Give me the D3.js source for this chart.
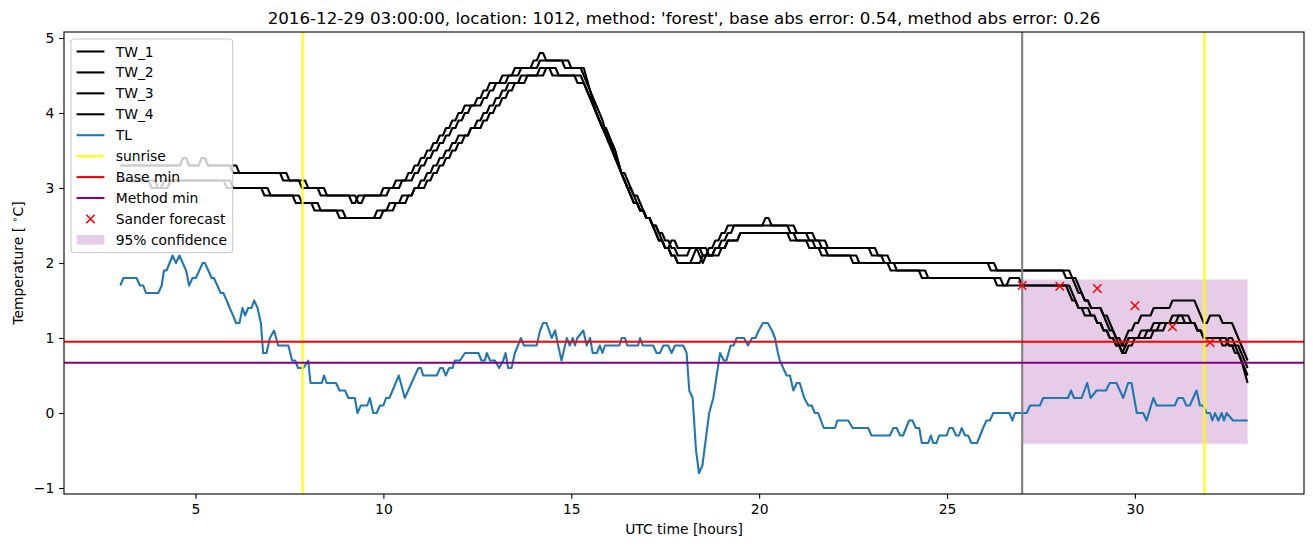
<!DOCTYPE html>
<html><head><meta charset="utf-8">
<script src="https://cdn.jsdelivr.net/npm/d3@7"></script>
<style>body{margin:0;background:#fff} svg{display:block} text{font-family:"DejaVu Sans",sans-serif;fill:#000}</style>
</head><body><svg id="chart" width="1313" height="547"></svg>
<script>
const chartTitle = "2016-12-29 03:00:00, location: 1012, method: 'forest', base abs error: 0.54, method abs error: 0.26";
const xLabel = "UTC time [hours]";
const xTicks = [5, 10, 15, 20, 25, 30];
const yTicks = [-1, 0, 1, 2, 3, 4, 5];
const seriesNames = ["TW_1", "TW_2", "TW_3", "TW_4", "TL"];

// TW sensors sampled every 10 minutes from 03:00 (hour 3) to hour 33
const twStartHour = 3, twStepHours = 1 / 6;
const tw1 = [
3.3,3.3,3.3,3.3,3.3,3.3,3.3,3.3,3.3,3.3,
3.4,3.3,3.3,3.4,3.3,3.3,3.3,3.3,3.2,3.2,
3.2,3.2,3.2,3.2,3.2,3.2,3.1,3.1,3.1,3.0,
3.0,3.0,2.9,2.9,2.9,2.9,2.9,2.8,2.9,2.9,
2.9,2.9,3.0,3.0,3.1,3.1,3.2,3.3,3.4,3.5,
3.6,3.7,3.8,3.9,4.0,4.1,4.1,4.2,4.3,4.4,
4.4,4.5,4.5,4.6,4.6,4.6,4.7,4.8,4.7,4.7,
4.7,4.6,4.6,4.6,4.5,4.3,4.0,3.8,3.7,3.4,
3.2,3.0,2.8,2.7,2.6,2.5,2.3,2.2,2.3,2.2,
2.2,2.2,2.2,2.0,2.2,2.3,2.4,2.5,2.5,2.5,
2.5,2.5,2.5,2.6,2.5,2.5,2.5,2.4,2.4,2.4,
2.3,2.3,2.2,2.2,2.2,2.2,2.2,2.2,2.2,2.2,
2.1,2.1,2.0,2.0,2.0,2.0,2.0,2.0,2.0,2.0,
2.0,2.0,2.0,2.0,2.0,2.0,2.0,2.0,2.0,1.9,
1.9,1.9,1.9,1.9,1.9,1.9,1.9,1.9,1.9,1.9,
1.9,1.8,1.8,1.6,1.5,1.4,1.4,1.3,1.1,1.0,
0.9,1.1,1.2,1.3,1.3,1.4,1.4,1.4,1.5,1.5,
1.5,1.5,1.4,1.2,1.3,1.3,1.2,1.2,1.1,0.9,
0.7];
const tw2 = [
3.3,3.3,3.3,3.3,3.3,3.3,3.3,3.3,3.3,3.3,
3.4,3.3,3.3,3.4,3.3,3.3,3.3,3.3,3.3,3.2,
3.2,3.2,3.2,3.2,3.2,3.2,3.2,3.1,3.1,3.1,
3.0,3.0,3.0,2.9,2.9,2.9,2.9,2.9,2.8,2.9,
2.9,2.9,2.9,3.0,3.0,3.1,3.1,3.2,3.3,3.4,
3.5,3.6,3.7,3.8,3.9,4.0,4.1,4.1,4.2,4.3,
4.4,4.4,4.5,4.5,4.6,4.6,4.6,4.7,4.7,4.7,
4.7,4.7,4.6,4.6,4.6,4.3,4.1,3.9,3.6,3.5,
3.2,3.0,2.8,2.7,2.6,2.5,2.4,2.3,2.2,2.1,
2.1,2.2,2.2,2.2,2.1,2.2,2.3,2.4,2.5,2.5,
2.5,2.5,2.5,2.5,2.5,2.5,2.5,2.5,2.4,2.4,
2.4,2.3,2.3,2.2,2.2,2.2,2.2,2.2,2.2,2.2,
2.2,2.1,2.1,2.0,2.0,2.0,2.0,2.0,2.0,2.0,
2.0,2.0,2.0,2.0,2.0,2.0,2.0,2.0,2.0,2.0,
1.9,1.9,1.9,1.9,1.9,1.9,1.9,1.9,1.9,1.9,
1.9,1.9,1.8,1.7,1.5,1.4,1.4,1.3,1.2,1.0,
0.8,1.0,1.0,1.1,1.1,1.2,1.2,1.2,1.3,1.3,
1.3,1.2,1.1,1.0,1.0,1.0,1.0,0.9,0.8,0.7,
0.5];
const tw3 = [
3.1,3.1,3.1,3.1,3.1,3.0,3.0,3.1,3.1,3.1,
3.1,3.1,3.1,3.1,3.1,3.1,3.1,3.0,3.0,3.0,
3.0,3.0,3.0,2.9,2.9,2.9,2.9,2.9,2.8,2.8,
2.8,2.7,2.7,2.7,2.7,2.6,2.6,2.6,2.6,2.6,
2.6,2.7,2.7,2.8,2.8,2.9,2.9,3.0,3.1,3.2,
3.3,3.4,3.5,3.6,3.7,3.7,3.8,3.9,4.0,4.1,
4.2,4.3,4.4,4.4,4.5,4.5,4.5,4.6,4.6,4.5,
4.5,4.5,4.5,4.4,4.4,4.2,4.0,3.8,3.6,3.4,
3.2,3.0,2.9,2.7,2.6,2.5,2.3,2.2,2.1,2.0,
2.0,2.0,2.2,2.1,2.1,2.2,2.2,2.3,2.3,2.4,
2.4,2.4,2.4,2.4,2.4,2.4,2.4,2.3,2.3,2.3,
2.2,2.2,2.1,2.1,2.1,2.1,2.1,2.0,2.0,2.0,
2.0,2.0,2.0,1.9,1.9,1.9,1.9,1.9,1.8,1.8,
1.8,1.8,1.8,1.8,1.8,1.8,1.8,1.8,1.8,1.8,
1.7,1.7,1.8,1.8,1.7,1.7,1.7,1.7,1.7,1.7,
1.7,1.7,1.6,1.4,1.4,1.3,1.2,1.1,1.0,0.9,
0.8,0.9,1.0,1.0,1.0,1.1,1.1,1.2,1.2,1.2,
1.2,1.2,1.1,1.0,1.0,1.0,0.9,1.0,0.9,0.7,
0.4];
const tw4 = [
3.1,3.1,3.1,3.1,3.1,3.1,3.0,3.0,3.1,3.1,
3.1,3.1,3.1,3.1,3.1,3.1,3.1,3.1,3.0,3.0,
3.0,3.0,3.0,3.0,2.9,2.9,2.9,2.9,2.9,2.8,
2.8,2.8,2.7,2.7,2.7,2.7,2.6,2.6,2.6,2.6,
2.6,2.6,2.7,2.7,2.8,2.8,2.9,3.0,3.0,3.1,
3.2,3.3,3.4,3.5,3.6,3.7,3.8,3.8,3.9,4.0,
4.1,4.2,4.3,4.4,4.4,4.5,4.5,4.5,4.6,4.6,
4.5,4.5,4.5,4.5,4.4,4.2,4.0,3.8,3.7,3.5,
3.2,3.1,2.9,2.8,2.6,2.5,2.4,2.2,2.1,2.0,
2.0,2.0,2.0,2.1,2.1,2.1,2.2,2.3,2.3,2.4,
2.4,2.4,2.4,2.4,2.4,2.4,2.4,2.4,2.3,2.3,
2.3,2.2,2.2,2.1,2.1,2.1,2.1,2.1,2.0,2.0,
2.0,2.0,2.0,2.0,1.9,1.9,1.9,1.9,1.9,1.8,
1.8,1.8,1.8,1.8,1.8,1.8,1.8,1.8,1.8,1.8,
1.8,1.7,1.7,1.7,1.7,1.7,1.7,1.7,1.7,1.7,
1.7,1.7,1.5,1.4,1.3,1.3,1.2,1.1,1.0,0.9,
0.9,1.0,1.0,1.0,1.1,1.1,1.2,1.2,1.2,1.3,
1.2,1.2,1.1,1.0,1.0,1.0,1.0,0.9,0.9,0.8,
0.6];

// TL: [hour, temperature] readings
const tlSeries = [
[3.00,1.7],[3.08,1.8],[3.43,1.8],[3.52,1.7],[3.61,1.7],[3.68,1.6],[4.01,1.6],[4.10,1.7],[4.16,1.9],[4.23,1.9],
[4.39,2.1],[4.48,2.0],[4.57,2.1],[4.75,1.9],[4.83,1.7],[4.92,1.8],[5.01,1.8],[5.19,2.0],[5.25,2.0],[5.43,1.8],
[5.49,1.8],[5.67,1.6],[5.74,1.6],[5.83,1.5],[5.91,1.4],[6.00,1.3],[6.08,1.2],[6.17,1.2],[6.25,1.4],[6.32,1.3],
[6.40,1.4],[6.49,1.4],[6.56,1.5],[6.65,1.4],[6.74,1.2],[6.80,0.8],[6.89,0.8],[6.98,1.0],[7.09,1.1],[7.20,0.9],
[7.47,0.9],[7.57,0.7],[7.65,0.7],[7.73,0.6],[7.87,0.6],[8.00,0.7],[8.06,0.4],[8.36,0.4],[8.42,0.5],[8.49,0.4],
[8.74,0.4],[8.83,0.3],[8.98,0.3],[9.07,0.2],[9.24,0.2],[9.31,0.0],[9.40,0.1],[9.57,0.1],[9.64,0.2],[9.73,0.0],
[9.82,0.0],[9.91,0.1],[10.00,0.1],[10.07,0.2],[10.16,0.2],[10.41,0.5],[10.57,0.2],[10.75,0.4],[10.93,0.6],[11.00,0.6],
[11.06,0.5],[11.42,0.5],[11.51,0.6],[11.58,0.6],[11.66,0.5],[11.75,0.6],[11.84,0.6],[11.90,0.7],[12.04,0.7],[12.17,0.8],
[12.53,0.8],[12.61,0.7],[12.70,0.7],[12.75,0.8],[12.84,0.7],[12.97,0.7],[13.08,0.6],[13.19,0.7],[13.25,0.8],[13.32,0.6],
[13.41,0.6],[13.50,0.8],[13.66,1.0],[13.74,0.9],[14.08,0.9],[14.17,1.1],[14.25,1.2],[14.34,1.2],[14.48,1.0],[14.57,1.1],
[14.65,0.9],[14.74,0.7],[14.88,1.0],[14.96,0.9],[15.04,1.0],[15.10,0.9],[15.16,1.0],[15.32,1.1],[15.41,0.9],[15.50,1.0],
[15.57,0.8],[15.68,0.8],[15.76,0.9],[15.83,0.8],[15.90,0.9],[16.28,0.9],[16.34,1.0],[16.43,1.0],[16.49,0.9],[16.78,0.9],
[16.83,1.0],[16.90,0.9],[17.18,0.9],[17.27,0.8],[17.36,0.8],[17.45,0.9],[17.58,0.9],[17.67,0.8],[17.76,0.9],[17.98,0.9],
[18.07,0.8],[18.14,0.3],[18.23,0.2],[18.32,-0.5],[18.40,-0.8],[18.49,-0.7],[18.67,0.0],[18.78,0.2],[18.96,0.8],[19.06,0.7],
[19.13,0.7],[19.24,0.9],[19.32,0.9],[19.40,1.0],[19.49,1.0],[19.60,1.0],[19.70,0.9],[19.81,1.0],[19.90,1.0],[19.99,1.1],
[20.10,1.2],[20.23,1.2],[20.34,1.1],[20.42,1.0],[20.50,0.8],[20.55,0.7],[20.64,0.6],[20.73,0.5],[20.82,0.5],[20.91,0.3],
[21.00,0.4],[21.08,0.4],[21.20,0.2],[21.31,0.1],[21.40,0.1],[21.48,0.0],[21.57,0.0],[21.72,-0.2],[22.02,-0.2],[22.08,-0.1],
[22.37,-0.1],[22.49,-0.2],[22.90,-0.2],[22.99,-0.3],[23.48,-0.3],[23.57,-0.2],[23.66,-0.2],[23.75,-0.3],[23.83,-0.3],[23.99,-0.1],
[24.08,-0.1],[24.17,-0.2],[24.26,-0.2],[24.33,-0.4],[24.50,-0.4],[24.57,-0.3],[24.63,-0.4],[24.72,-0.4],[24.79,-0.3],[24.99,-0.3],
[25.06,-0.2],[25.15,-0.2],[25.24,-0.3],[25.32,-0.3],[25.39,-0.2],[25.48,-0.3],[25.56,-0.3],[25.65,-0.4],[25.80,-0.4],[25.96,-0.2],
[26.05,-0.1],[26.14,-0.1],[26.23,0.0],[26.66,0.0],[26.74,-0.1],[26.81,0.0],[27.12,0.0],[27.21,0.1],[27.47,0.1],[27.56,0.2],
[28.22,0.2],[28.30,0.3],[28.38,0.2],[28.58,0.2],[28.73,0.4],[28.82,0.2],[28.98,0.3],[29.23,0.3],[29.33,0.4],[29.51,0.4],
[29.69,0.2],[29.82,0.4],[29.91,0.4],[30.05,0.0],[30.22,0.0],[30.31,-0.1],[30.49,0.2],[30.58,0.1],[31.06,0.1],[31.15,0.2],
[31.28,0.2],[31.37,0.1],[31.46,0.1],[31.64,0.3],[31.73,0.1],[31.82,0.1],[31.91,0.0],[32.00,0.0],[32.06,-0.1],[32.13,0.0],
[32.22,-0.1],[32.31,0.0],[32.37,-0.1],[32.44,0.0],[32.61,-0.1],[33.00,-0.1]];

const sunriseHours = [7.85, 31.85];
const forecastStartHour = 27;
const baseMin = 0.95;
const methodMin = 0.67;
const forecastHours = [27, 28, 29, 30, 31, 32];
const forecastValues = [1.70, 1.69, 1.66, 1.43, 1.15, 0.94];
const confidenceHours = [27, 33];
const confidenceRange = [-0.41, 1.78];

// ---------- drawing ----------
const svg = d3.select("#chart");
const box = {left: 64, right: 1304, top: 32, bottom: 494};
const FS = 13.9;

const twHours = tw1.map((_, i) => twStartHour + i * twStepHours);
const twAll = [tw1, tw2, tw3, tw4];
const xExt = d3.extent(twHours.concat(tlSeries.map(d => d[0])));
const yExt = d3.extent(twAll.flat().concat(tlSeries.map(d => d[1])));
const xPad = (xExt[1] - xExt[0]) * 0.05, yPad = (yExt[1] - yExt[0]) * 0.05;
const x = d3.scaleLinear().domain([xExt[0] - xPad, xExt[1] + xPad]).range([box.left, box.right]);
const y = d3.scaleLinear().domain([yExt[0] - yPad, yExt[1] + yPad]).range([box.bottom, box.top]);

// confidence band
svg.append("rect")
  .attr("x", x(confidenceHours[0])).attr("width", x(confidenceHours[1]) - x(confidenceHours[0]))
  .attr("y", y(confidenceRange[1])).attr("height", y(confidenceRange[0]) - y(confidenceRange[1]))
  .attr("fill", "#800080").attr("fill-opacity", 0.2);

// sensor readings: a single 0.1 quantum step is drawn as a short riser, larger changes linearly
const riser = x(twStartHour + twStepHours / 2) - x(twStartHour);
function stairPath(hours, vals) {
  let d = `M${x(hours[0])},${y(vals[0])}`;
  for (let i = 1; i < vals.length; i++) {
    const x1 = x(hours[i]), y0 = y(vals[i - 1]), y1 = y(vals[i]);
    const dv = Math.abs(vals[i] - vals[i - 1]);
    if (dv > 0 && dv < 0.15) d += `L${x1 - riser},${y0}`;
    d += `L${x1},${y1}`;
  }
  return d;
}
twAll.forEach(s => {
  svg.append("path").attr("d", stairPath(twHours, s))
    .attr("fill", "none").attr("stroke", "#000")
    .attr("stroke-width", 2.08).attr("stroke-linejoin", "round");
});
const line = d3.line().x(d => x(d[0])).y(d => y(d[1]));
svg.append("path").datum(tlSeries).attr("d", line).attr("fill", "none")
  .attr("stroke", "#1f77b4").attr("stroke-width", 2.08).attr("stroke-linejoin", "round");

sunriseHours.forEach(h => {
  svg.append("line").attr("x1", x(h)).attr("x2", x(h)).attr("y1", box.top).attr("y2", box.bottom)
    .attr("stroke", "#ffff00").attr("stroke-width", 2.08);
});
svg.append("line").attr("x1", x(forecastStartHour)).attr("x2", x(forecastStartHour))
  .attr("y1", box.top).attr("y2", box.bottom).attr("stroke", "#808080").attr("stroke-width", 2.08);
[[baseMin, "#ff0000"], [methodMin, "#800080"]].forEach(([v, c]) => {
  svg.append("line").attr("x1", box.left).attr("x2", box.right).attr("y1", y(v)).attr("y2", y(v))
    .attr("stroke", c).attr("stroke-width", 2.08);
});
const xm = 4.2;
const xPath = `M${-xm},${-xm}L${xm},${xm}M${-xm},${xm}L${xm},${-xm}`;
forecastHours.forEach((h, i) => {
  svg.append("path").attr("d", xPath)
    .attr("transform", `translate(${x(h)},${y(forecastValues[i])})`)
    .attr("stroke", "#ff0000").attr("stroke-width", 1.5).attr("fill", "none");
});

// axes
const xAxis = svg.append("g").attr("transform", `translate(0,${box.bottom})`)
  .call(d3.axisBottom(x).tickValues(xTicks).tickFormat(d3.format("d"))
    .tickSize(4.86).tickPadding(4.86).tickSizeOuter(0));
const yAxis = svg.append("g").attr("transform", `translate(${box.left},0)`)
  .call(d3.axisLeft(y).tickValues(yTicks).tickFormat(d3.format("d"))
    .tickSize(4.86).tickPadding(4.86).tickSizeOuter(0));
[xAxis, yAxis].forEach(g => {
  g.select(".domain").remove();
  g.selectAll("line").attr("stroke", "#000").attr("stroke-width", 1.1);
  g.selectAll("text").attr("font-size", FS).attr("font-family", "DejaVu Sans").attr("fill", "#000");
});
svg.append("rect").attr("x", box.left).attr("y", box.top)
  .attr("width", box.right - box.left).attr("height", box.bottom - box.top)
  .attr("fill", "none").attr("stroke", "#000").attr("stroke-width", 1.1);

// labels
svg.append("text").attr("x", (box.left + box.right) / 2).attr("y", 24)
  .attr("text-anchor", "middle").attr("font-size", 16.7).text(chartTitle);
svg.append("text").attr("x", (box.left + box.right) / 2).attr("y", 534)
  .attr("text-anchor", "middle").attr("font-size", FS).text(xLabel);
const yl = svg.append("text").attr("transform", `translate(23,${(box.top + box.bottom) / 2}) rotate(-90)`)
  .attr("text-anchor", "middle").attr("font-size", FS);
yl.append("tspan").text("Temperature [ ");
yl.append("tspan").attr("font-size", 9.7).attr("dy", -5).text("∘");
yl.append("tspan").attr("dy", 5).text("C]");

// legend
const legendItems = [
  {label: seriesNames[0], type: "line", color: "#000"},
  {label: seriesNames[1], type: "line", color: "#000"},
  {label: seriesNames[2], type: "line", color: "#000"},
  {label: seriesNames[3], type: "line", color: "#000"},
  {label: seriesNames[4], type: "line", color: "#1f77b4"},
  {label: "sunrise", type: "line", color: "#ffff00"},
  {label: "Base min", type: "line", color: "#ff0000"},
  {label: "Method min", type: "line", color: "#800080"},
  {label: "Sander forecast", type: "marker", color: "#ff0000"},
  {label: "95% confidence", type: "patch", color: "#800080"}
];
const lg = svg.append("g");
const lgBox = lg.append("rect").attr("x", 71).attr("y", 39).attr("rx", 3).attr("ry", 3)
  .attr("fill", "#fff").attr("fill-opacity", 0.8).attr("stroke", "#cccccc").attr("stroke-width", 1.1);
let maxW = 0;
legendItems.forEach((d, k) => {
  const cy = 51.5 + k * 20.93;
  if (d.type === "line") {
    lg.append("line").attr("x1", 76.6).attr("x2", 104.4).attr("y1", cy).attr("y2", cy)
      .attr("stroke", d.color).attr("stroke-width", 2.08);
  } else if (d.type === "marker") {
    lg.append("path").attr("d", xPath).attr("transform", `translate(90.5,${cy})`)
      .attr("stroke", d.color).attr("stroke-width", 1.5).attr("fill", "none");
  } else {
    lg.append("rect").attr("x", 76.6).attr("width", 27.8).attr("y", cy - 4.9).attr("height", 9.7)
      .attr("fill", d.color).attr("fill-opacity", 0.2);
  }
  const t = lg.append("text").attr("x", 115.7).attr("y", cy).attr("dy", "0.36em")
    .attr("font-size", FS).text(d.label);
  maxW = Math.max(maxW, t.node().getComputedTextLength());
});
lgBox.attr("width", 115.7 + maxW + 5.6 - 71).attr("height", 51.5 + 9 * 20.93 + 12.6 - 39);
</script></body></html>
